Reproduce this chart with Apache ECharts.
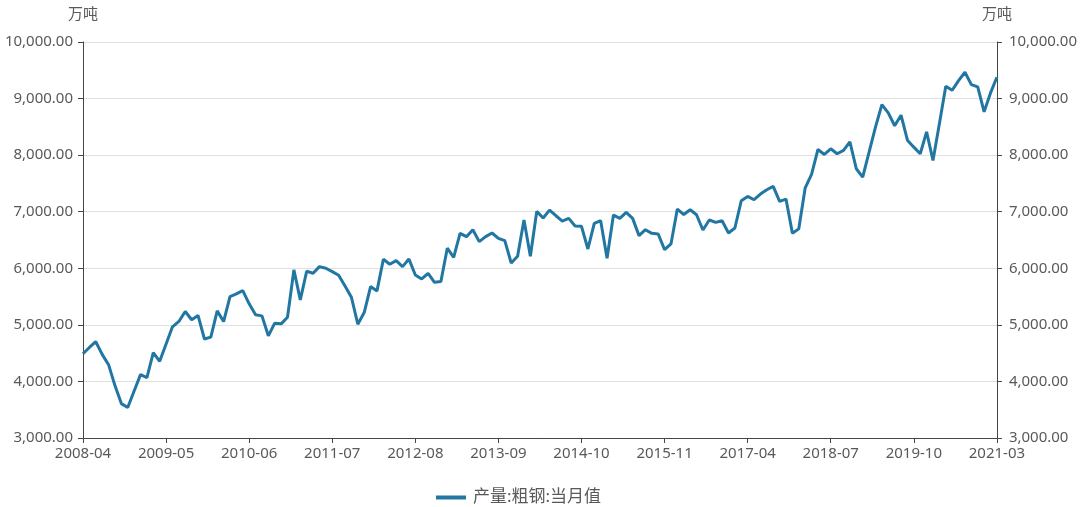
<!DOCTYPE html>
<html>
<head>
<meta charset="utf-8">
<script src="https://cdn.jsdelivr.net/npm/echarts@6/dist/echarts.min.js"></script>
<style>
html,body{margin:0;padding:0;background:#fff;overflow:hidden;}
#chart{width:1080px;height:507px;}
</style>
</head>
<body>
<div id="chart"></div>
<script>
var categories = [
'2008-04','2008-05','2008-06','2008-07','2008-08','2008-09','2008-10','2008-11','2008-12',
'2009-01','2009-02','2009-03','2009-04','2009-05','2009-06','2009-07','2009-08','2009-09','2009-10','2009-11','2009-12',
'2010-01','2010-02','2010-03','2010-04','2010-05','2010-06','2010-07','2010-08','2010-09','2010-10','2010-11','2010-12',
'2011-01','2011-02','2011-03','2011-04','2011-05','2011-06','2011-07','2011-08','2011-09','2011-10','2011-11','2011-12',
'2012-01','2012-02','2012-03','2012-04','2012-05','2012-06','2012-07','2012-08','2012-09','2012-10','2012-11','2012-12',
'2013-01','2013-02','2013-03','2013-04','2013-05','2013-06','2013-07','2013-08','2013-09','2013-10','2013-11','2013-12',
'2014-01','2014-02','2014-03','2014-04','2014-05','2014-06','2014-07','2014-08','2014-09','2014-10','2014-11','2014-12',
'2015-01','2015-02','2015-03','2015-04','2015-05','2015-06','2015-07','2015-08','2015-09','2015-10','2015-11','2015-12',
'2016-03','2016-04','2016-05','2016-06','2016-07','2016-08','2016-09','2016-10','2016-11','2016-12',
'2017-03','2017-04','2017-05','2017-06','2017-07','2017-08','2017-09','2017-10','2017-11','2017-12',
'2018-03','2018-04','2018-05','2018-06','2018-07','2018-08','2018-09','2018-10','2018-11','2018-12',
'2019-03','2019-04','2019-05','2019-06','2019-07','2019-08','2019-09','2019-10','2019-11','2019-12',
'2020-03','2020-04','2020-05','2020-06','2020-07','2020-08','2020-09','2020-10','2020-11','2020-12',
'2021-03'
];

var steelOutput = [
4490,4600,4702,4478,4296,3926,3608,3538,3830,
4120,4067,4508,4355,4660,4966,5060,5236,5090,5166,4750,4783,
5247,5059,5500,5547,5606,5371,5177,5159,4806,5030,5018,5136,
5971,5441,5947,5912,6029,6000,5941,5876,5688,5488,5012,5218,
5677,5600,6159,6071,6135,6029,6165,5882,5812,5912,5753,5765,
6355,6194,6618,6559,6682,6471,6559,6624,6530,6488,6094,6212,
6853,6212,7006,6888,7029,6929,6835,6882,6747,6741,6341,6794,
6841,6177,6941,6882,6988,6882,6577,6682,6618,6606,6330,6430,
7047,6950,7035,6947,6677,6853,6812,6841,6624,6712,
7194,7270,7212,7312,7388,7447,7182,7223,6618,6697,
7420,7660,8100,8012,8112,8024,8083,8235,7759,7612,
8053,8494,8894,8747,8520,8706,8265,8141,8024,8412,
7906,8553,9218,9147,9318,9465,9247,9206,8765,9100,
9376
];

var seriesName = '产量:粗钢:当月值';
var unitName = '万吨';
var yMin = 3000, yMax = 10000, yStep = 1000;

function fmt(v){
  var s = Number(v).toFixed(2);
  var parts = s.split('.');
  parts[0] = parts[0].replace(/\B(?=(\d{3})+(?!\d))/g, ',');
  return parts.join('.');
}

var FONT = '"Noto Sans", "Noto Sans CJK SC", sans-serif';
var labelColor = '#595959';
var axisColor = '#464646';
var lineColor = '#2176a2';

var chart = echarts.init(document.getElementById('chart'), null, {renderer:'canvas', width:1080, height:507});
var yAxisCommon = {
  type:'value', min:yMin, max:yMax, interval:yStep,
  name: unitName,
  nameLocation:'end',
  nameGap: 20,
  nameTextStyle:{color:labelColor, fontSize:15, fontFamily:FONT},
  axisLine:{show:true, lineStyle:{color:axisColor, width:1}},
  axisTick:{show:true, length:5, lineStyle:{color:axisColor}},
  axisLabel:{color:labelColor, fontSize:15, fontFamily:FONT, margin:10, formatter:fmt},
  splitLine:{show:true, lineStyle:{color:'#e0e0e0', width:1}}
};
chart.setOption({
  animation:false,
  backgroundColor:'#fff',
  grid:{left:83, right:78, top:42, bottom:69, containLabel:false},
  legend:{
    data:[{name:seriesName, icon:'rect'}],
    left:431, top:484,
    itemWidth:30, itemHeight:4, itemGap:10,
    itemStyle:{color:lineColor},
    textStyle:{color:labelColor, fontSize:17, fontFamily:FONT, padding:[0,0,0,2]}
  },
  xAxis:{
    type:'category', data:categories, boundaryGap:false,
    axisLine:{show:true, lineStyle:{color:axisColor, width:1}},
    axisTick:{show:true, interval:12, length:5, lineStyle:{color:axisColor}},
    axisLabel:{interval:12, color:labelColor, fontSize:15, fontFamily:FONT, margin:8},
    splitLine:{show:false}
  },
  yAxis:[
    Object.assign({}, yAxisCommon, {position:'left'}),
    Object.assign({}, yAxisCommon, {position:'right', splitLine:{show:false}, axisLabel:Object.assign({}, yAxisCommon.axisLabel, {margin:12})})
  ],
  series:[{
    name:seriesName, type:'line', data:steelOutput, yAxisIndex:0,
    symbol:'none', smooth:false,
    lineStyle:{color:lineColor, width:3},
    itemStyle:{color:lineColor}
  }]
});
</script>
</body>
</html>
